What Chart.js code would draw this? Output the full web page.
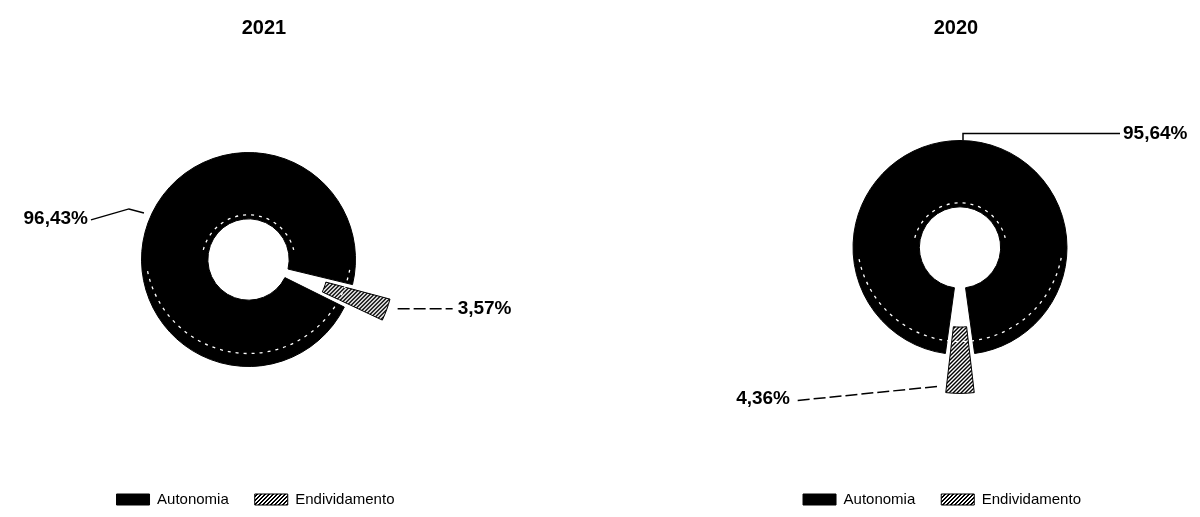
<!DOCTYPE html>
<html>
<head>
<meta charset="utf-8">
<script src="https://cdn.jsdelivr.net/npm/chart.js@4.4.1/dist/chart.umd.min.js"></script>
<style>
  html, body { margin: 0; padding: 0; background: #fff; width: 1200px; height: 517px; overflow: hidden; }
  .panel { position: absolute; top: 0; width: 600px; height: 517px; }
  .year { position: absolute; top: 16px; line-height: 24px; font: bold 20px 'Liberation Sans', Arial, sans-serif; color: #000; transform: translateX(-50%); }
</style>
</head>
<body>
<div class="panel" style="left:0"><canvas id="c2021"></canvas></div>
<div class="panel" style="left:600px"><canvas id="c2020"></canvas></div>
<div class="year" style="left:264px">2021</div>
<div class="year" style="left:956px">2020</div>
<script>
// Capital structure split per year (percent of total)
const categories = ['Autonomia', 'Endividamento'];
const years = ['2021', '2020'];
const values2021 = [96.43, 3.57];
const values2020 = [95.64, 4.36];

Chart.defaults.font.family = "'Liberation Sans', Arial, sans-serif";
Chart.defaults.color = '#000';

// Black fill with a white diagonal speckle, used for the debt slice
function hatchPattern() {
  const size = 4;
  const c = document.createElement('canvas');
  c.width = size; c.height = size;
  const g = c.getContext('2d');
  g.fillStyle = '#000';
  g.fillRect(0, 0, size, size);
  g.fillStyle = '#fff';
  for (let y = 0; y < size; y++) {
    for (let x = 0; x < size; x++) {
      if ((x + y) % 4 < 2) g.fillRect(x, y, 1, 1);
    }
  }
  return g.createPattern(c, 'repeat');
}

// Start angle so that slice `idx` is centred on `targetDeg` (clockwise from top)
function rotationFor(values, idx, targetDeg) {
  const total = values.reduce((a, b) => a + b, 0);
  let before = 0;
  for (let i = 0; i < idx; i++) before += values[i];
  return targetDeg - (before + values[idx] / 2) / total * 360;
}

function pct(v) {
  return v.toFixed(2).replace('.', ',') + '%';
}

// Moves the legend block sideways after layout
const legendShift = {
  id: 'legendShift',
  afterLayout(chart, args, opts) {
    const lg = chart.legend;
    if (lg && opts.dx) { lg.left += opts.dx; lg.right += opts.dx; }
  }
};

// Thin dotted rims that give the ring its raised look
const ringEdges = {
  id: 'ringEdges',
  afterDatasetsDraw(chart) {
    const arc = chart.getDatasetMeta(0).data[0];
    if (!arc) return;
    const { x, y, outerRadius: R, innerRadius: r } = arc;
    const ctx = chart.ctx;
    ctx.save();
    ctx.strokeStyle = '#fff';
    ctx.lineWidth = 1.3;
    ctx.setLineDash([3, 5]);
    ctx.beginPath();
    ctx.arc(x, y - 9, R - 4, Math.PI * 0.06, Math.PI * 0.94);
    ctx.stroke();
    ctx.beginPath();
    ctx.arc(x, y + 2, r + 6, Math.PI * 1.08, Math.PI * 1.92);
    ctx.stroke();
    ctx.restore();
  }
};

// Value labels joined to their slice by a leader line
const leaderLabels = {
  id: 'leaderLabels',
  afterDatasetsDraw(chart, args, opts) {
    const meta = chart.getDatasetMeta(0);
    const values = chart.data.datasets[0].data;
    const ctx = chart.ctx;
    ctx.save();
    ctx.strokeStyle = '#000';
    ctx.fillStyle = '#000';
    ctx.lineWidth = 1.5;
    ctx.font = "bold 19px 'Liberation Sans', Arial, sans-serif";
    ctx.textBaseline = 'middle';
    (opts.items || []).forEach(item => {
      const arc = meta.data[item.index];
      const mid = (arc.startAngle + arc.endAngle) / 2;
      const rr = arc.outerRadius + (item.push || 0);
      const ax = arc.x + Math.cos(mid) * rr;
      const ay = arc.y + Math.sin(mid) * rr;
      ctx.setLineDash(item.dash || []);
      ctx.beginPath();
      ctx.moveTo(ax + item.start[0], ay + item.start[1]);
      item.path.forEach(([dx, dy]) => ctx.lineTo(ax + dx, ay + dy));
      ctx.stroke();
      ctx.setLineDash([]);
      ctx.textAlign = item.align;
      ctx.fillText(pct(values[item.index]), ax + item.text[0], ay + item.text[1]);
    });
    ctx.restore();
  }
};

function makeDoughnut(id, values, cfg) {
  const pattern = hatchPattern();
  return new Chart(document.getElementById(id), {
    type: 'doughnut',
    data: {
      labels: categories,
      datasets: [{
        data: values,
        backgroundColor: ['#000', pattern],
        borderColor: '#000',
        borderWidth: 1,
        offset: [0, 90],
        hoverOffset: 0
      }]
    },
    options: {
      responsive: true,
      maintainAspectRatio: false,
      animation: false,
      events: [],
      radius: 107,
      cutout: '38%',
      rotation: rotationFor(values, 1, cfg.sliceAt),
      layout: { padding: cfg.padding },
      plugins: {
        title: { display: false },
        tooltip: { enabled: false },
        legend: {
          position: 'bottom',
          labels: {
            boxWidth: 33,
            boxHeight: 11,
            padding: 26,
            color: '#000',
            font: { size: 15 }
          }
        },
        legendShift: { dx: cfg.legendDx },
        leaderLabels: { items: cfg.labels }
      }
    },
    plugins: [legendShift, ringEdges, leaderLabels]
  });
}

makeDoughnut('c2021', values2021, {
  sliceAt: 110,
  padding: { top: 53, right: 103, bottom: 0, left: 0 },
  legendDx: 7,
  labels: [
    { index: 0, push: 0, start: [-4, -10], path: [[-19, -14], [-57, -3]], text: [-60, -4], align: 'right' },
    { index: 1, push: 40, start: [11, -1], path: [[66, -1]], text: [71, -1], align: 'left', dash: [12, 4] }
  ]
});

makeDoughnut('c2020', values2020, {
  sliceAt: 180,
  padding: { top: 29, right: 0, bottom: 0, left: 120 },
  legendDx: -18,
  labels: [
    { index: 0, push: 0, start: [3, 0], path: [[3, -7], [160, -7]], text: [163, -7], align: 'left' },
    { index: 1, push: 40, start: [-23, -8], path: [[-163, 6]], text: [-170, 4], align: 'right', dash: [12, 4] }
  ]
});
</script>
</body>
</html>
